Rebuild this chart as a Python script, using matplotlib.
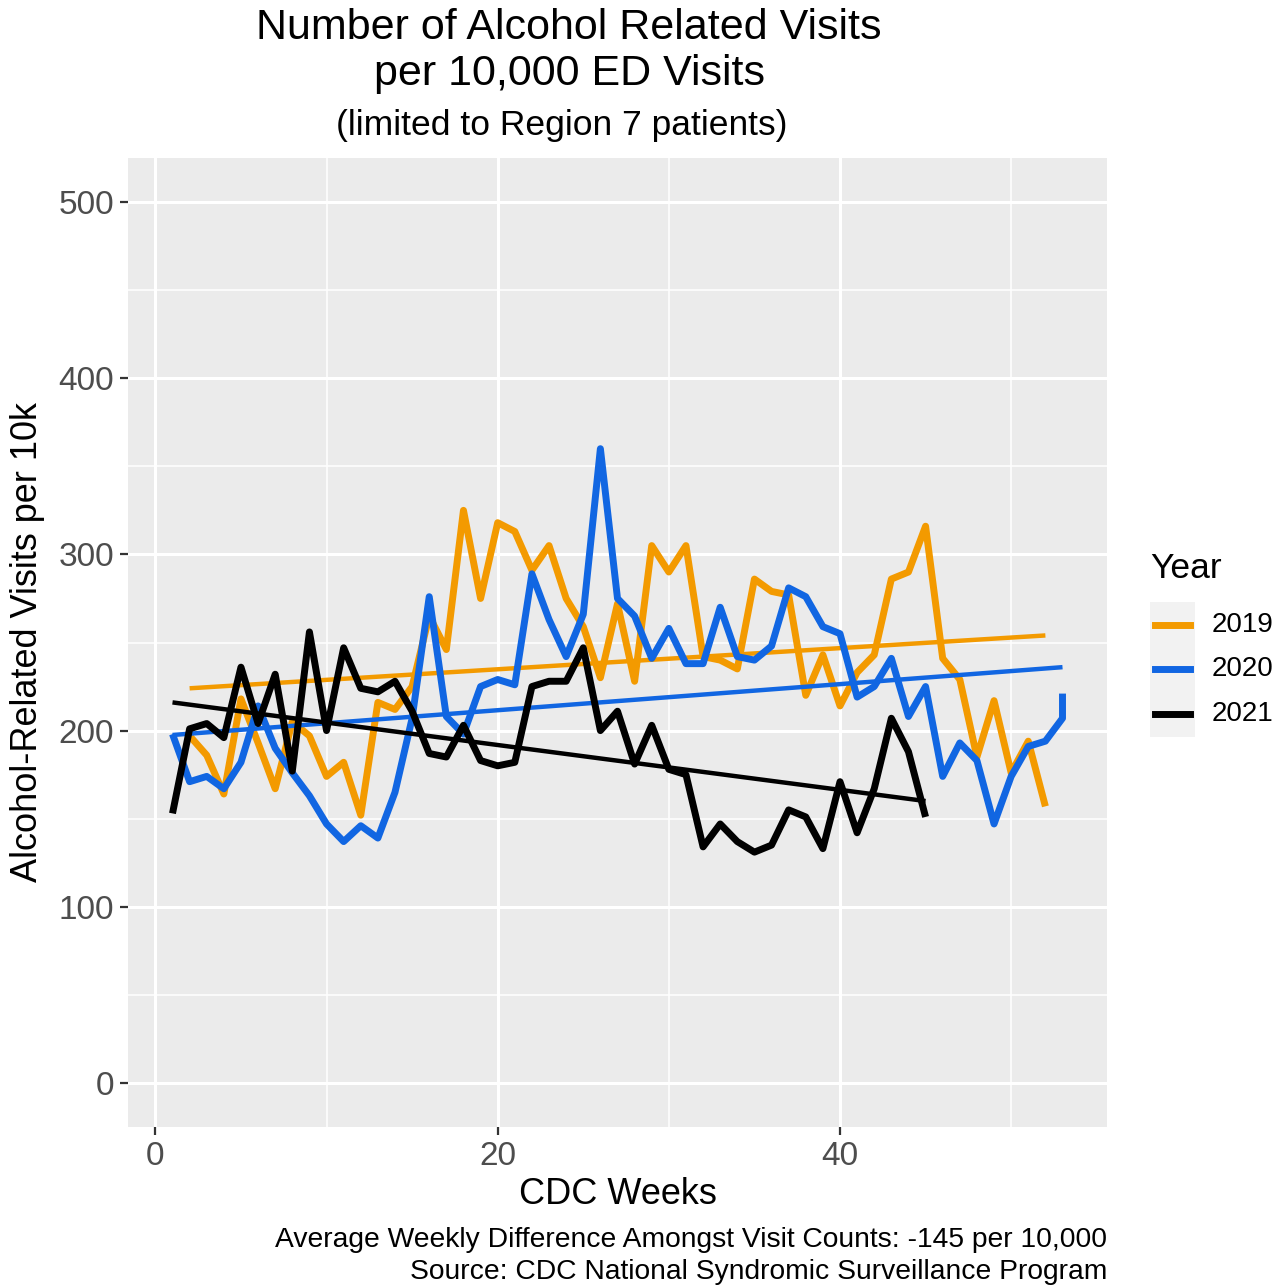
import numpy as np
import matplotlib
matplotlib.use("Agg")
import matplotlib.pyplot as plt
from matplotlib.lines import Line2D
from matplotlib.patches import Rectangle

plt.rcParams['font.family'] = ['Liberation Sans', 'DejaVu Sans']

# weekly alcohol-related visits per 10k ED visits
weeks_2019 = list(range(2, 53))
visits_2019 = [197, 186, 164, 218, 193, 167, 205, 197, 174, 182, 152, 216, 212, 225,
               265, 246, 325, 275, 318, 313, 291, 305, 275, 259, 230, 272, 228, 305,
               290, 305, 242, 240, 235, 286, 279, 277, 220, 243, 214, 233, 243, 286,
               290, 316, 241, 229, 185, 217, 176, 194, 157]

weeks_2020 = list(range(1, 54)) + [53]
visits_2020 = [198, 171, 174, 167, 182, 214, 190, 176, 163, 147, 137, 146, 139, 165,
               207, 276, 208, 198, 225, 229, 226, 289, 263, 242, 266, 360, 275, 265,
               241, 258, 238, 238, 270, 242, 240, 248, 281, 276, 259, 255, 219, 225,
               241, 208, 225, 174, 193, 183, 147, 174, 191, 194, 207, 221]

weeks_2021 = list(range(1, 46))
visits_2021 = [153, 201, 204, 196, 236, 204, 232, 177, 256, 200, 247, 224, 222, 228,
               211, 187, 185, 203, 183, 180, 182, 225, 228, 228, 247, 200, 211, 181,
               203, 178, 175, 134, 147, 137, 131, 135, 155, 151, 133, 171, 142, 167,
               207, 188, 151]

# linear trend (lm) value at first and last week of each year
trend_2019 = [224, 254]
trend_2020 = [197.5, 236]
trend_2021 = [216, 160]

years = ['2019', '2020', '2021']
colors = ['#F39A00', '#1166E2', '#000000']
series = [(weeks_2019, visits_2019, trend_2019),
          (weeks_2020, visits_2020, trend_2020),
          (weeks_2021, visits_2021, trend_2021)]

W, H = 1288, 1286
fig = plt.figure(figsize=(W / 100, H / 100), dpi=100)
ax = fig.add_axes([128 / W, 1 - 1127 / H, (1107 - 128) / W, (1127 - 158) / H])
ax.set_facecolor('#EBEBEB')

for (wk, val, trend), col in zip(series, colors):
    ax.plot(wk, val, color=col, lw=5.0, solid_joinstyle='round',
            solid_capstyle='butt', zorder=3)
    ax.plot([wk[0], wk[-1]], trend, color=col, lw=3.2,
            solid_capstyle='butt', zorder=3)

ax.set_xlim(-1.6, 55.6)
ax.set_ylim(-25, 525)
ax.set_xticks([0, 20, 40])
ax.set_xticks([10, 30, 50], minor=True)
ax.set_yticks(range(0, 501, 100))
ax.set_yticks(range(50, 501, 100), minor=True)
ax.grid(True, which='major', color='white', lw=2.2)
ax.grid(True, which='minor', color='white', lw=1.1)
ax.set_axisbelow(True)
for s in ax.spines.values():
    s.set_visible(False)
ax.tick_params(which='major', length=6, width=1.6, color='#333333',
               labelsize=24, labelcolor='#4D4D4D', pad=4)
ax.tick_params(which='minor', length=0)

ax.set_xlabel('CDC Weeks', fontsize=26, labelpad=4)
ax.set_ylabel('Alcohol-Related Visits per 10k', fontsize=26, labelpad=10)

fig.text(569 / W, 1 - 28 / H, 'Number of Alcohol Related Visits',
         fontsize=31, ha='center', va='center')
fig.text(569 / W, 1 - 74 / H, 'per 10,000 ED Visits',
         fontsize=31, ha='center', va='center')
fig.text(562 / W, 1 - 126 / H, '(limited to Region 7 patients)',
         fontsize=25.5, ha='center', va='center')

fig.text(1107 / W, 1 - 1240 / H,
         'Average Weekly Difference Amongst Visit Counts: -145 per 10,000',
         fontsize=20.3, ha='right', va='center')
fig.text(1107 / W, 1 - 1272 / H,
         'Source: CDC National Syndromic Surveillance Program',
         fontsize=20.3, ha='right', va='center')

# legend: grey key strip, coloured keys and year labels
fig.patches.append(Rectangle((1150 / W, 1 - 737 / H), 45 / W, 135 / H,
                             transform=fig.transFigure, facecolor='#F2F2F2',
                             edgecolor='none'))
fig.text(1150 / W, 1 - 568 / H, 'Year', fontsize=25.5, ha='left', va='center')
key_y = [625, 669, 714]
for yy, col, lab in zip(key_y, colors, years):
    fig.add_artist(Line2D([1155 / W, 1190 / W], [1 - yy / H, 1 - yy / H],
                          color=col, lw=5.0, transform=fig.transFigure))
    fig.text(1212 / W, 1 - yy / H, lab, fontsize=20, ha='left', va='center')

fig.savefig('out.png', dpi=100)
